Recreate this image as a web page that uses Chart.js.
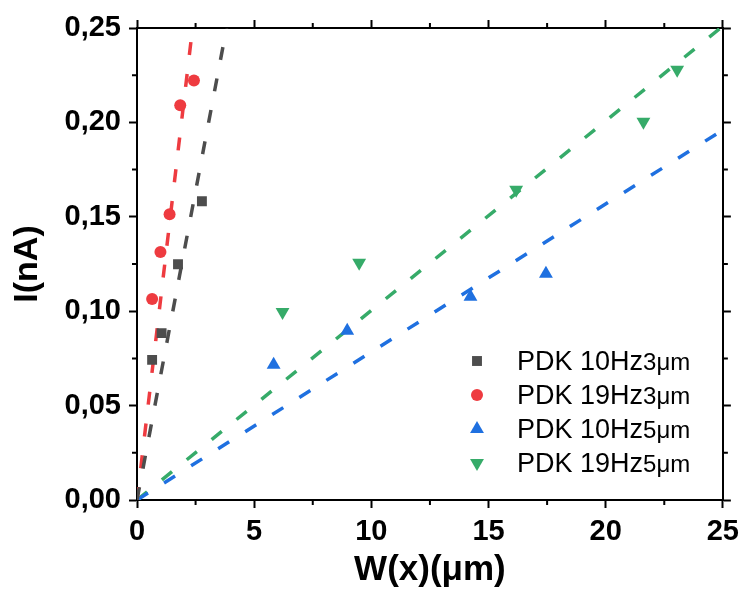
<!DOCTYPE html>
<html><head><meta charset="utf-8">
<script src="https://cdn.jsdelivr.net/npm/chart.js@4/dist/chart.umd.min.js"></script>
<style>html,body{margin:0;padding:0;background:#fff}</style>
</head><body>
<canvas id="c" width="746" height="594"></canvas>
<script>
// ---- data ----
const xTickLabels = ['0', '5', '10', '15', '20', '25'];
const yTickLabels = ['0,00', '0,05', '0,10', '0,15', '0,20', '0,25'];

const seriesNames = ['PDK 10Hz', 'PDK 19Hz', 'PDK 10Hz', 'PDK 19Hz'];
const seriesUnits = ['3\u03bcm', '3\u03bcm', '5\u03bcm', '5\u03bcm'];

const x10Hz3um = [0.645, 1.05, 1.75, 2.77];
const y10Hz3um = [0.0742, 0.0884, 0.1249, 0.1582];

const x19Hz3um = [0.645, 1.00, 1.39, 1.845, 2.43];
const y19Hz3um = [0.1064, 0.1313, 0.1513, 0.2091, 0.2222];

const x10Hz5um = [5.83, 8.97, 14.23, 17.45];
const y10Hz5um = [0.0716, 0.0897, 0.1077, 0.1199];

const x19Hz5um = [6.21, 9.48, 16.18, 21.61, 23.05];
const y19Hz5um = [0.0996, 0.1256, 0.1643, 0.2004, 0.2279];

// linear fits through origin (two end points each)
const fit10Hz3umX = [0, 3.82];  const fit10Hz3umY = [0, 0.25];
const fit19Hz3umX = [0, 2.37];  const fit19Hz3umY = [0, 0.25];
const fit10Hz5umX = [0, 25];    const fit10Hz5umY = [0, 0.196];
const fit19Hz5umX = [0, 24.9];  const fit19Hz5umY = [0, 0.25];

// ---- styles ----
const colors = ['#4d4d4d', '#ee3b40', '#1f70e0', '#36ab69'];
const FONT = "'Liberation Sans', Arial, sans-serif";

const pts = (xs, ys) => xs.map((x, i) => ({x: x, y: ys[i]}));

const markerDefs = [
  {style: 'rect', radius: 7, rot: 0},
  {style: 'circle', radius: 6, rot: 0},
  {style: 'triangle', radius: 8, rot: 0},
  {style: 'triangle', radius: 8, rot: 180}
];

const scatterData = [
  pts(x10Hz3um, y10Hz3um), pts(x19Hz3um, y19Hz3um),
  pts(x10Hz5um, y10Hz5um), pts(x19Hz5um, y19Hz5um)
];
const fitData = [
  pts(fit10Hz3umX, fit10Hz3umY), pts(fit19Hz3umX, fit19Hz3umY),
  pts(fit10Hz5umX, fit10Hz5umY), pts(fit19Hz5umX, fit19Hz5umY)
];

const datasets = [];
scatterData.forEach((d, i) => {
  datasets.push({
    label: seriesNames[i] + seriesUnits[i],
    data: d,
    showLine: false,
    pointStyle: markerDefs[i].style,
    pointRadius: markerDefs[i].radius,
    pointRotation: markerDefs[i].rot,
    pointBackgroundColor: colors[i],
    pointBorderColor: colors[i],
    pointBorderWidth: 0,
    backgroundColor: colors[i],
    borderColor: colors[i]
  });
});
fitData.forEach((d, i) => {
  datasets.push({
    label: 'fit ' + i,
    data: d,
    showLine: true,
    pointRadius: 0,
    borderColor: colors[i],
    borderWidth: 3.5,
    borderDash: [13, 19],
    fill: false
  });
});

const minorTicks = {
  id: 'minorTicks',
  afterDraw(chart) {
    const ctx = chart.ctx, a = chart.chartArea;
    const xs = chart.scales.x, ys = chart.scales.y;
    ctx.save();
    ctx.strokeStyle = '#000';
    ctx.lineWidth = 2;
    ctx.beginPath();
    for (let i = 0; i < xs.ticks.length - 1; i++) {
      const p = xs.getPixelForValue((xs.ticks[i].value + xs.ticks[i + 1].value) / 2);
      ctx.moveTo(p, a.bottom); ctx.lineTo(p, a.bottom + 5);
      ctx.moveTo(p, a.top); ctx.lineTo(p, a.top - 5);
    }
    for (let i = 0; i < ys.ticks.length - 1; i++) {
      const p = ys.getPixelForValue((ys.ticks[i].value + ys.ticks[i + 1].value) / 2);
      ctx.moveTo(a.left, p); ctx.lineTo(a.left - 5, p);
      ctx.moveTo(a.right, p); ctx.lineTo(a.right + 5, p);
    }
    ctx.stroke();
    ctx.restore();
  }
};

const innerLegend = {
  id: 'innerLegend',
  afterDraw(chart) {
    const ctx = chart.ctx;
    const mx = 477, tx = 517, y0 = 361, dy = 34;
    ctx.save();
    for (let i = 0; i < 4; i++) {
      const ds = chart.data.datasets[i];
      const y = y0 + dy * i;
      ctx.fillStyle = ds.pointBackgroundColor;
      ctx.strokeStyle = ds.pointBorderColor;
      ctx.lineWidth = 0;
      Chart.helpers.drawPoint(ctx, {
        pointStyle: ds.pointStyle, rotation: ds.pointRotation,
        radius: ds.pointRadius, borderWidth: 0
      }, mx, y);
      ctx.fillStyle = '#000';
      ctx.textBaseline = 'alphabetic';
      ctx.textAlign = 'left';
      ctx.font = '27px ' + FONT;
      ctx.fillText(seriesNames[i], tx, y + 9);
      const w = ctx.measureText(seriesNames[i]).width;
      ctx.font = '24px ' + FONT;
      ctx.fillText(seriesUnits[i], tx + w, y + 9);
    }
    ctx.restore();
  }
};

const axisCommon = {
  type: 'linear',
  grid: {drawOnChartArea: false, drawTicks: true, tickLength: 8, tickWidth: 2, tickColor: '#000'},
  border: {display: true, color: '#000', width: 2}
};

new Chart(document.getElementById('c'), {
  type: 'scatter',
  data: {datasets: datasets},
  options: {
    responsive: false,
    animation: false,
    devicePixelRatio: 1,
    layout: {padding: 0},
    plugins: {legend: {display: false}, tooltip: {enabled: false}},
    scales: {
      x: Object.assign({}, axisCommon, {
        position: 'bottom', min: 0, max: 25,
        ticks: {stepSize: 5, color: '#000', padding: 7,
          font: {family: FONT, size: 29, weight: 'bold'},
          callback: (v) => xTickLabels[Math.round(v / 5)]},
        title: {display: true, text: 'W(x)(\u03bcm)', color: '#000',
          font: {family: FONT, size: 35, weight: 'bold', lineHeight: 1.2},
          padding: {top: 0, bottom: 3}},
        afterFit: (s) => { s.height = 94; }
      }),
      y: Object.assign({}, axisCommon, {
        position: 'left', min: 0, max: 0.25,
        ticks: {stepSize: 0.05, color: '#000', padding: 8,
          font: {family: FONT, size: 29, weight: 'bold'},
          callback: (v) => yTickLabels[Math.round(v / 0.05)]},
        title: {display: true, text: 'I(nA)', color: '#000',
          font: {family: FONT, size: 34, weight: 'bold', lineHeight: 1.2},
          padding: {top: 7, bottom: 0}},
        afterFit: (s) => { s.width = 137; }
      }),
      x2: Object.assign({}, axisCommon, {
        position: 'top', min: 0, max: 25,
        ticks: {display: false, stepSize: 5},
        afterFit: (s) => { s.height = 28; }
      }),
      y2: Object.assign({}, axisCommon, {
        position: 'right', min: 0, max: 0.25,
        ticks: {display: false, stepSize: 0.05},
        afterFit: (s) => { s.width = 19; }
      })
    }
  },
  plugins: [minorTicks, innerLegend]
});
</script>
</body></html>
